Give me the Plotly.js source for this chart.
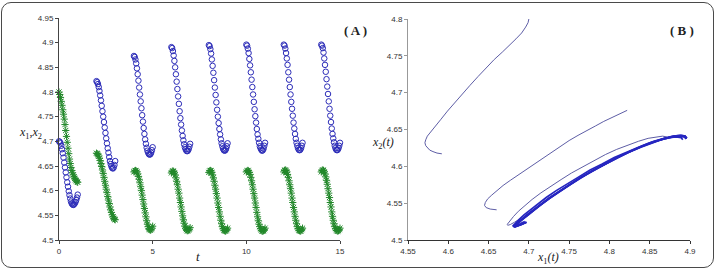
<!DOCTYPE html>
<html>
<head>
<meta charset="utf-8">
<script src="https://cdn.plot.ly/plotly-3.0.1.min.js"></script>
<style>
  html, body { margin:0; padding:0; background:#fff; }
  #wrap { position:relative; width:719px; height:270px; }
  #chart { width:719px; height:270px; }
  #frame { position:absolute; left:1px; top:2px; width:711px; height:264px; border:1.5px solid #4a4a4a; border-radius:10px; pointer-events:none; }
</style>
</head>
<body>
<div id="wrap"><div id="chart"></div><div id="frame"></div></div>
<script>
// ---- data ----
const segStart = [0, 2, 4, 6, 8, 10, 12, 14];
const tau = [0,0.04,0.08,0.12,0.16,0.20,0.24,0.28,0.32,0.36,0.40,0.44,0.48,0.52,0.56,0.60,0.64,0.68,0.72,0.76,0.80,0.84,0.88,0.92,0.96,1.00];

const x1_seg1 = [4.700,4.699,4.696,4.691,4.684,4.676,4.667,4.657,4.647,4.637,4.627,4.617,4.608,4.599,4.591,4.584,4.578,4.574,4.572,4.571,4.572,4.574,4.577,4.581,4.586,4.592];
const x1_seg2 = [4.822,4.820,4.816,4.810,4.802,4.793,4.783,4.772,4.761,4.750,4.739,4.728,4.717,4.706,4.696,4.686,4.677,4.668,4.660,4.654,4.649,4.646,4.645,4.647,4.652,4.660];
const x1_seg3 = [4.873,4.871,4.866,4.858,4.848,4.836,4.823,4.809,4.795,4.781,4.767,4.753,4.740,4.727,4.715,4.704,4.695,4.687,4.681,4.677,4.674,4.673,4.674,4.677,4.682,4.688];
const x1_seg4 = [4.891,4.889,4.883,4.874,4.863,4.850,4.836,4.821,4.806,4.791,4.776,4.761,4.747,4.734,4.722,4.711,4.702,4.694,4.688,4.684,4.681,4.680,4.681,4.684,4.689,4.695];
const x1_seg5 = [4.895,4.893,4.887,4.878,4.866,4.853,4.839,4.824,4.809,4.794,4.779,4.764,4.750,4.737,4.725,4.714,4.704,4.696,4.690,4.685,4.682,4.681,4.682,4.685,4.690,4.696];
const x1_seg6 = [4.896,4.894,4.888,4.879,4.867,4.854,4.840,4.825,4.810,4.795,4.780,4.765,4.751,4.738,4.725,4.714,4.705,4.697,4.690,4.686,4.683,4.681,4.682,4.685,4.691,4.697];
const x1_seg7 = [4.896,4.894,4.888,4.879,4.868,4.855,4.840,4.825,4.810,4.795,4.780,4.766,4.752,4.738,4.726,4.715,4.705,4.697,4.691,4.686,4.683,4.682,4.683,4.686,4.691,4.697];
const x1_seg8 = [4.896,4.894,4.889,4.880,4.868,4.855,4.841,4.826,4.811,4.796,4.781,4.766,4.752,4.739,4.726,4.715,4.706,4.698,4.691,4.686,4.683,4.682,4.683,4.686,4.691,4.697];

const x2_seg1 = [4.800,4.795,4.789,4.781,4.773,4.764,4.755,4.745,4.734,4.722,4.710,4.698,4.686,4.675,4.664,4.655,4.647,4.641,4.636,4.632,4.628,4.625,4.622,4.620,4.618,4.617];
const x2_seg2 = [4.676,4.675,4.673,4.670,4.666,4.661,4.655,4.649,4.642,4.635,4.627,4.619,4.611,4.603,4.596,4.588,4.581,4.574,4.567,4.561,4.556,4.551,4.547,4.544,4.542,4.541];
const x2_seg3 = [4.638,4.640,4.641,4.640,4.638,4.634,4.629,4.623,4.616,4.608,4.600,4.591,4.582,4.573,4.564,4.555,4.547,4.539,4.532,4.527,4.523,4.521,4.520,4.521,4.524,4.528];
const x2_seg4 = [4.636,4.639,4.640,4.639,4.636,4.632,4.626,4.619,4.612,4.603,4.595,4.585,4.576,4.567,4.558,4.549,4.541,4.534,4.528,4.524,4.521,4.519,4.519,4.520,4.522,4.525];
const x2_seg5 = [4.637,4.640,4.641,4.640,4.637,4.632,4.626,4.619,4.611,4.603,4.594,4.585,4.575,4.566,4.557,4.548,4.540,4.533,4.527,4.523,4.520,4.519,4.518,4.519,4.521,4.524];
const x2_seg6 = [4.638,4.640,4.641,4.640,4.637,4.633,4.627,4.620,4.612,4.603,4.594,4.585,4.575,4.566,4.556,4.547,4.539,4.532,4.527,4.523,4.520,4.518,4.518,4.519,4.521,4.524];
const x2_seg7 = [4.638,4.641,4.642,4.641,4.638,4.633,4.627,4.620,4.612,4.604,4.595,4.585,4.576,4.566,4.557,4.548,4.540,4.533,4.527,4.523,4.520,4.519,4.518,4.519,4.521,4.524];
const x2_seg8 = [4.638,4.641,4.642,4.641,4.638,4.634,4.628,4.621,4.613,4.604,4.595,4.586,4.576,4.567,4.557,4.548,4.540,4.533,4.527,4.523,4.520,4.519,4.518,4.519,4.521,4.524];

const tickA_x = [0, 5, 10, 15];
const tickA_xText = ['0', '5', '10', '15'];
const tickA_y = [4.5,4.55,4.6,4.65,4.7,4.75,4.8,4.85,4.9,4.95];
const tickA_yText = ['4.5','4.55','4.6','4.65','4.7','4.75','4.8','4.85','4.9','4.95'];
const tickB_x = [4.55,4.6,4.65,4.7,4.75,4.8,4.85,4.9];
const tickB_xText = ['4.55','4.6','4.65','4.7','4.75','4.8','4.85','4.9'];
const tickB_y = [4.5,4.55,4.6,4.65,4.7,4.75,4.8];
const tickB_yText = ['4.5','4.55','4.6','4.65','4.7','4.75','4.8'];

// ---- build traces ----
const X1 = [x1_seg1,x1_seg2,x1_seg3,x1_seg4,x1_seg5,x1_seg6,x1_seg7,x1_seg8];
const X2 = [x2_seg1,x2_seg2,x2_seg3,x2_seg4,x2_seg5,x2_seg6,x2_seg7,x2_seg8];

let tAll = [], x1All = [], x2All = [];
X1.forEach((seg, i) => {
  tau.forEach((s, j) => { tAll.push(segStart[i] + s); x1All.push(seg[j]); x2All.push(X2[i][j]); });
});

function joinSegs(idx, arrs) {
  let out = [];
  idx.forEach((i, k) => { if (k > 0) out.push(null); out = out.concat(arrs[i]); });
  return out;
}

const traces = [
  { x: tAll, y: x2All, xaxis:'x', yaxis:'y', mode:'markers', type:'scatter', cliponaxis:false,
    marker:{ symbol:'asterisk-open', size:6, color:'#22882a', line:{ color:'#22882a', width:1 } } },
  { x: tAll, y: x1All, xaxis:'x', yaxis:'y', mode:'markers', type:'scatter', cliponaxis:false,
    marker:{ symbol:'circle-open', size:5.5, color:'#2c2cb8', line:{ color:'#2c2cb8', width:1 } } },
  { x: joinSegs([0,1,2], X1), y: joinSegs([0,1,2], X2), xaxis:'x2', yaxis:'y2', mode:'lines', type:'scatter',
    line:{ color:'#5e5ea6', width:1 } },
  { x: joinSegs([3,4,5,6,7], X1), y: joinSegs([3,4,5,6,7], X2), xaxis:'x2', yaxis:'y2', mode:'lines', type:'scatter',
    line:{ color:'#2626c0', width:1.7 } }
];

const tickFont = { family:'Liberation Sans, Arial, sans-serif', size:8, color:'#333' };
const W = 719, H = 270;
const px = v => v / W, py = v => 1 - v / H;

const axisCommon = { showgrid:false, zeroline:false, ticks:'outside', ticklen:3, tickwidth:1,
  tickfont: tickFont, showline:true, linewidth:1, mirror:false, tickmode:'array' };

const serif = 'Liberation Serif, Times New Roman, serif';
function ann(text, x, y, size) {
  return { text, xref:'paper', yref:'paper', x:px(x), y:py(y), xanchor:'center', yanchor:'middle',
    showarrow:false, font:{ family:serif, size, color:'#222' } };
}

const layout = {
  width: W, height: H,
  margin: { l:0, r:0, t:0, b:0 },
  paper_bgcolor:'#fff', plot_bgcolor:'#fff',
  showlegend:false,
  xaxis: Object.assign({}, axisCommon, { domain:[px(59), px(340)], range:[0,15], anchor:'y',
    tickvals: tickA_x, ticktext: tickA_xText, linecolor:'#444', tickcolor:'#444' }),
  yaxis: Object.assign({}, axisCommon, { domain:[1-240/H, 1-18/H], range:[4.5,4.95], anchor:'x',
    tickvals: tickA_y, ticktext: tickA_yText, linecolor:'#444', tickcolor:'#444' }),
  xaxis2: Object.assign({}, axisCommon, { domain:[px(408), px(690)], range:[4.55,4.9], anchor:'y2',
    tickvals: tickB_x, ticktext: tickB_xText, linecolor:'#333', tickcolor:'#333' }),
  yaxis2: Object.assign({}, axisCommon, { domain:[1-240/H, 1-19/H], range:[4.5,4.8], anchor:'x2',
    tickvals: tickB_y, ticktext: tickB_yText, linecolor:'#999', tickcolor:'#999' }),
  annotations: [
    ann('<b>( A )</b>', 355, 30, 13),
    ann('<b>( B )</b>', 682, 30, 13),
    ann('<i>t</i>', 198, 256, 13),
    ann('<i>x</i><sub>1</sub>,<i>x</i><sub>2</sub>', 30, 133, 12),
    ann('<i>x</i><sub>2</sub><i>(t)</i>', 383, 143, 12),
    ann('<i>x</i><sub>1</sub><i>(t)</i>', 548, 258, 12)
  ]
};

Plotly.newPlot('chart', traces, layout, { staticPlot:true, displayModeBar:false });
</script>
</body>
</html>
